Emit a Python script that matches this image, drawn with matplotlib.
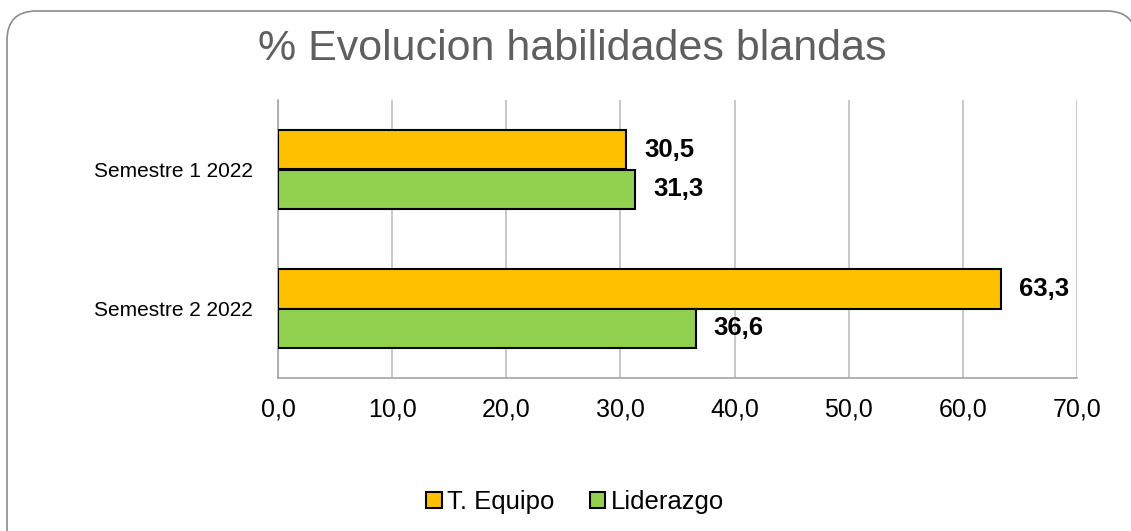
import numpy as np
import matplotlib
matplotlib.use("Agg")
import matplotlib.pyplot as plt
from matplotlib.patches import FancyBboxPatch

plt.rcParams['font.family'] = ['Liberation Sans', 'DejaVu Sans']

categorias = ["Semestre 1 2022", "Semestre 2 2022"]
equipo = [30.5, 63.3]
liderazgo = [31.3, 36.6]
ticks = [0, 10, 20, 30, 40, 50, 60, 70]

fig = plt.figure(figsize=(11.31, 5.31), dpi=100)

# marco redondeado
marco = FancyBboxPatch((7 / 1131, -0.05), (1136 - 7) / 1131, 1 - 11 / 531 + 0.05,
                       boxstyle="round,pad=0,rounding_size=0.026",
                       transform=fig.transFigure, facecolor="white",
                       edgecolor="#8c8c8c", linewidth=1.2,
                       mutation_aspect=1131 / 531, zorder=-5)
fig.patches.append(marco)

ax = fig.add_axes([278 / 1131, 1 - 378 / 531, 799 / 1131, 278 / 531])
ax.set_facecolor("none")

y = np.arange(len(categorias))
h = 0.286
b1 = ax.barh(y - h / 2, equipo, height=h, color="#FFC000", edgecolor="black",
             linewidth=1.5, label="T. Equipo", zorder=3)
b2 = ax.barh(y + h / 2, liderazgo, height=h, color="#92D050", edgecolor="black",
             linewidth=1.5, label="Liderazgo", zorder=3)

for bars in (b1, b2):
    for r in bars:
        v = r.get_width()
        ax.annotate(f"{v:.1f}".replace(".", ","), (v, r.get_y() + r.get_height() / 2),
                    xytext=(18, 0), textcoords="offset pixels",
                    va="center", ha="left", fontsize=18.5, fontweight="bold")

ax.set_xlim(0, 70)
ax.set_ylim(1.5, -0.5)
ax.set_xticks(ticks)
ax.set_xticklabels([f"{t:.1f}".replace(".", ",") for t in ticks], fontsize=18)
ax.set_yticks(y)
ax.set_yticklabels(categorias, fontsize=15)
ax.tick_params(length=0, pad=14)
ax.tick_params(axis="y", pad=18)
ax.grid(axis="x", color="#bfbfbf", linewidth=1.2, zorder=0)
for s in ("top", "right"):
    ax.spines[s].set_visible(False)
for s in ("left", "bottom"):
    ax.spines[s].set_color("#a6a6a6")
    ax.spines[s].set_linewidth(1.2)

fig.text(572 / 1131, 1 - 49 / 531, "% Evolucion habilidades blandas", ha="center",
         va="center", fontsize=31, color="#5f5f5f")

fig.legend(handles=[b1, b2], loc="center", bbox_to_anchor=(575 / 1131, 1 - 502 / 531),
           ncol=2, frameon=False, fontsize=18.5, handlelength=0.6, handleheight=0.6,
           handletextpad=0.2, columnspacing=1.4)

fig.savefig("out.png", dpi=100)
